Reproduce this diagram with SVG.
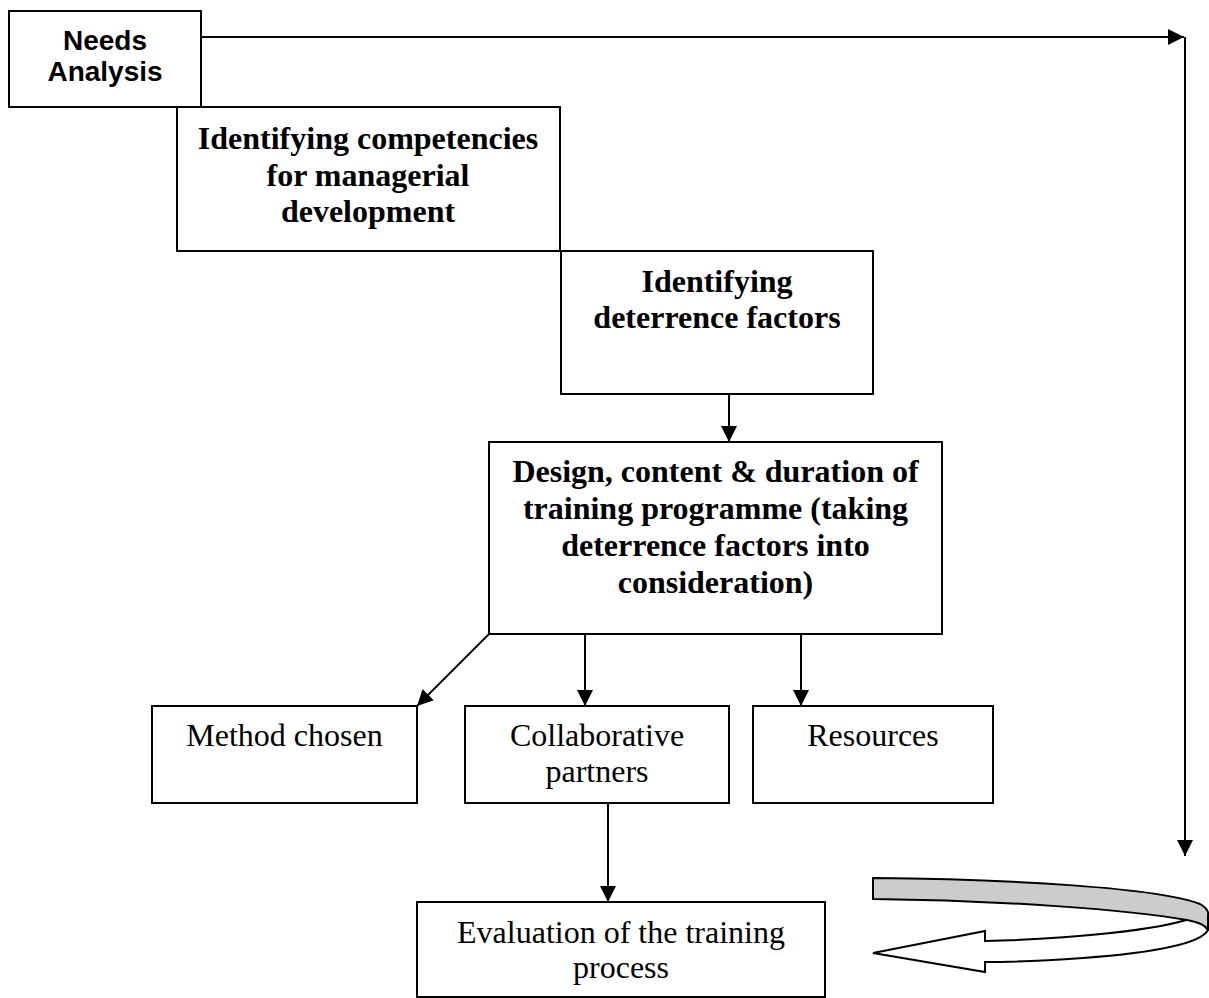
<svg xmlns="http://www.w3.org/2000/svg" width="1209" height="998" viewBox="0 0 1209 998">
<style>
.box{fill:#fff;stroke:#000;stroke-width:2}
.conn{fill:none;stroke:#000;stroke-width:2}
.tb{font-family:"Liberation Serif","Times New Roman",serif;font-weight:bold;font-size:32px;text-anchor:middle;fill:#000}
.tr{font-family:"Liberation Serif","Times New Roman",serif;font-size:32px;text-anchor:middle;fill:#000}
.ts{font-family:"Liberation Sans",Arial,sans-serif;font-weight:bold;font-size:28px;text-anchor:middle;fill:#000}
</style>
<defs>
<marker id="ah" markerUnits="userSpaceOnUse" markerWidth="16" markerHeight="16" refX="16" refY="8" orient="auto">
<path d="M0,0 L16,8 L0,16 Z" fill="#000"/>
</marker>
</defs>
<rect width="1209" height="998" fill="#fff"/>
<g id="connectors">
<line class="conn" x1="201" y1="37" x2="1184" y2="37" marker-end="url(#ah)"/>
<line class="conn" x1="1185" y1="37" x2="1185" y2="856" marker-end="url(#ah)"/>
<line class="conn" x1="729" y1="394" x2="729" y2="442" marker-end="url(#ah)"/>
<line class="conn" x1="489" y1="634" x2="417" y2="706" marker-end="url(#ah)"/>
<line class="conn" x1="585" y1="634" x2="585" y2="706" marker-end="url(#ah)"/>
<line class="conn" x1="801" y1="634" x2="801" y2="706" marker-end="url(#ah)"/>
<line class="conn" x1="608" y1="803" x2="608" y2="902" marker-end="url(#ah)"/>
</g>
<g id="needs">
<rect class="box" x="9" y="11" width="192" height="96"/>
<text class="ts" x="105" y="50">Needs</text>
<text class="ts" x="105" y="81">Analysis</text>
</g>
<g id="competencies">
<rect class="box" x="177" y="107" width="383" height="144"/>
<text class="tb" x="368" y="149">Identifying competencies</text>
<text class="tb" x="368" y="186">for managerial</text>
<text class="tb" x="368" y="222">development</text>
</g>
<g id="deterrence">
<rect class="box" x="561" y="251" width="312" height="143"/>
<text class="tb" x="717" y="292">Identifying</text>
<text class="tb" x="717" y="328">deterrence factors</text>
</g>
<g id="design">
<rect class="box" x="489" y="442" width="453" height="192"/>
<text class="tb" x="715.5" y="482">Design, content &amp; duration of</text>
<text class="tb" x="715.5" y="519">training programme (taking</text>
<text class="tb" x="715.5" y="556">deterrence factors into</text>
<text class="tb" x="715.5" y="593">consideration)</text>
</g>
<g id="method">
<rect class="box" x="152" y="706" width="265" height="97"/>
<text class="tr" x="284.5" y="746">Method chosen</text>
</g>
<g id="collaborative">
<rect class="box" x="465" y="706" width="264" height="97"/>
<text class="tr" x="597" y="746">Collaborative</text>
<text class="tr" x="597" y="782">partners</text>
</g>
<g id="resources">
<rect class="box" x="753" y="706" width="240" height="97"/>
<text class="tr" x="873" y="746">Resources</text>
</g>
<g id="evaluation">
<rect class="box" x="417" y="902" width="408" height="95"/>
<text class="tr" x="621" y="943">Evaluation of the training</text>
<text class="tr" x="621" y="978">process</text>
</g>
<g id="loop-arrow">
<path d="M985,941 C1070,939 1160,930 1192,918 L1208,915 L1208,930 C1200,945 1150,953 1083,958 C1040,961 1010,962 985,962 L985,972 L873,953 L985,931 Z" fill="#fff" stroke="#000" stroke-width="2" stroke-linejoin="miter"/>
<path d="M873,878 C1010,879 1160,888 1200,904 C1207,908 1209,912 1208,916 L1208,930 C1206,926 1198,922 1187,920 C1130,910 1000,900 873,899 Z" fill="#cccccc" stroke="#000" stroke-width="2"/>
</g>
</svg>
